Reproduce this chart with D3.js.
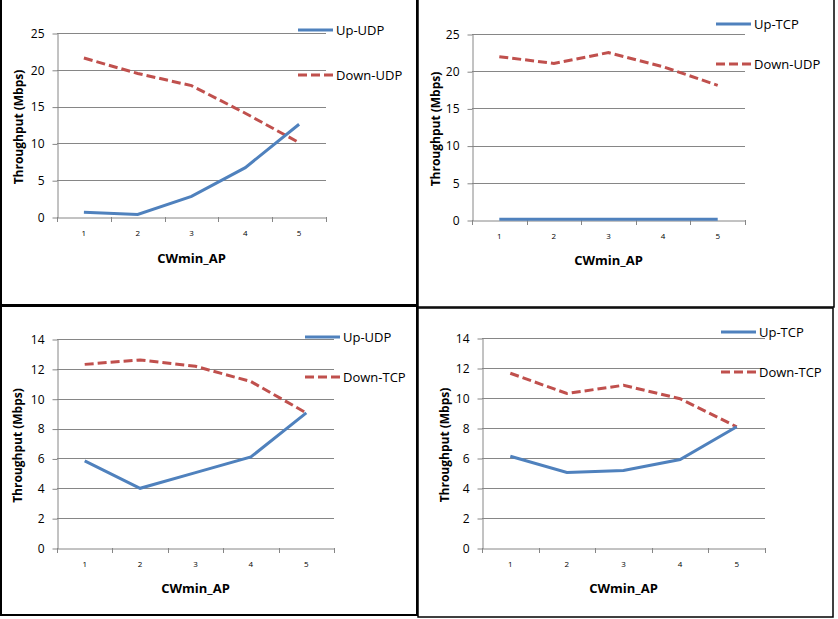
<!DOCTYPE html>
<meta charset="utf-8">
<script src="https://cdn.jsdelivr.net/npm/d3@7"></script>
<style>
  body { margin: 0; background: #fff; }
  text { font-family: "Open Sans", "Noto Sans", sans-serif; fill: #000; }
</style>
<div id="chart"></div>
<script>

// data
var categories = [1, 2, 3, 4, 5]

var upUdpA   = [0.65, 0.35, 2.8, 6.7, 12.6]
var downUdpA = [21.6, 19.5, 17.85, 14.1, 10.1]

var upTcpB   = [0.1, 0.1, 0.1, 0.1, 0.1]
var downUdpB = [21.95, 21.05, 22.5, 20.6, 18.1]

var upUdpC   = [5.83, 4.0, 5.05, 6.1, 9.05]
var downTcpC = [12.3, 12.6, 12.17, 11.15, 9.05]

var upTcpD   = [6.12, 5.04, 5.17, 5.9, 8.08]
var downTcpD = [11.65, 10.3, 10.85, 9.95, 8.08]

var ticksTop    = [0, 5, 10, 15, 20, 25]
var ticksBottom = [0, 2, 4, 6, 8, 10, 12, 14]

var blue = "#4f81bd", red = "#c0504d", grid = "#868686"

// panel layout (frame + plot area)
var panels = [
  { frame: [1, -2, 416, 307], plot: [57, 326, 33, 217], ymax: 25, ticks: ticksTop,
    up: upUdpA, down: downUdpA, upName: "Up-UDP", downName: "Down-UDP",
    legX: 298, legY: [30, 75], yTitleX: 19, xTitleY: 258, frameW: 2 },
  { frame: [418, -2, 416, 309], plot: [472, 745, 34, 220], ymax: 25, ticks: ticksTop,
    up: upTcpB, down: downUdpB, upName: "Up-TCP", downName: "Down-UDP",
    legX: 716, legY: [24, 64], yTitleX: 436, xTitleY: 260, frameW: 1.5 },
  { frame: [1, 306, 416, 309], plot: [57, 334, 339, 548], ymax: 14, ticks: ticksBottom,
    up: upUdpC, down: downTcpC, upName: "Up-UDP", downName: "Down-TCP",
    legX: 305, legY: [337, 377], yTitleX: 18, xTitleY: 588, frameW: 2 },
  { frame: [418, 308, 415, 309], plot: [482, 765, 338, 548], ymax: 14, ticks: ticksBottom,
    up: upTcpD, down: downTcpD, upName: "Up-TCP", downName: "Down-TCP",
    legX: 721, legY: [332, 372], yTitleX: 445, xTitleY: 588, frameW: 1.5 }
]

var svg = d3.select("#chart")
  .append("svg")
    .attr("width", 838)
    .attr("height", 619)

function drawPanel(p) {
  var g = svg.append("g")

  // frame
  g.append("rect")
    .attr("x", p.frame[0]).attr("y", p.frame[1])
    .attr("width", p.frame[2]).attr("height", p.frame[3])
    .attr("fill", "none")
    .attr("stroke", "#000")
    .attr("stroke-width", p.frameW)

  var x = d3.scaleBand()
    .domain(categories)
    .range([p.plot[0], p.plot[1]])
    .padding(0)

  var y = d3.scaleLinear()
    .domain([0, p.ymax])
    .range([p.plot[3], p.plot[2]])

  // gridlines
  g.append("g")
    .selectAll("line")
    .data(p.ticks.slice(1))
    .enter()
    .append("line")
      .attr("x1", p.plot[0]).attr("x2", p.plot[1])
      .attr("y1", function(d) { return Math.round(y(d)) + 0.5 })
      .attr("y2", function(d) { return Math.round(y(d)) + 0.5 })
      .attr("stroke", grid)

  // y axis
  var yAxis = g.append("g")
    .attr("transform", "translate(" + (p.plot[0] + 0.5) + ",0.5)")
    .call(d3.axisLeft(y).tickValues(p.ticks).tickSize(5).tickPadding(8).tickSizeOuter(0))
  yAxis.selectAll("path, line").attr("stroke", grid)
  yAxis.selectAll("text").style("font-size", "12px").attr("fill", "#000")

  // x axis: labels centred, tick marks on category boundaries
  var xAxis = g.append("g")
    .attr("transform", "translate(0," + (p.plot[3] + 0.5) + ")")
    .call(d3.axisBottom(x).tickSize(0).tickPadding(13).tickSizeOuter(0))
  xAxis.select(".domain").attr("stroke", grid)
  xAxis.selectAll("text").style("font-size", "8px").attr("fill", "#000")

  var bounds = categories.map(function(c) { return x(c) }).concat([p.plot[1]])
  g.append("g")
    .selectAll("line")
    .data(bounds)
    .enter()
    .append("line")
      .attr("x1", function(d) { return Math.round(d) + 0.5 })
      .attr("x2", function(d) { return Math.round(d) + 0.5 })
      .attr("y1", p.plot[3]).attr("y2", p.plot[3] + 5)
      .attr("stroke", grid)

  var line = d3.line()
    .x(function(d, i) { return x(categories[i]) + x.bandwidth() / 2 })
    .y(function(d) { return y(d) })

  g.append("path")
    .datum(p.down)
    .attr("d", line)
    .attr("fill", "none")
    .attr("stroke", red)
    .attr("stroke-width", 3)
    .attr("stroke-dasharray", "9,4")

  g.append("path")
    .datum(p.up)
    .attr("d", line)
    .attr("fill", "none")
    .attr("stroke", blue)
    .attr("stroke-width", 3)

  // legend
  var leg = [
    { name: p.upName, color: blue, dash: null, y: p.legY[0] },
    { name: p.downName, color: red, dash: "9,4", y: p.legY[1] }
  ]
  leg.forEach(function(l) {
    g.append("line")
      .attr("x1", p.legX).attr("x2", p.legX + 35)
      .attr("y1", l.y).attr("y2", l.y)
      .attr("stroke", l.color)
      .attr("stroke-width", 3)
      .attr("stroke-dasharray", l.dash)
    g.append("text")
      .attr("x", p.legX + 38)
      .attr("y", l.y)
      .attr("dy", "0.35em")
      .style("font-size", "13px")
      .text(l.name)
  })

  // axis titles
  g.append("text")
    .attr("text-anchor", "middle")
    .attr("transform", "translate(" + p.yTitleX + "," + ((p.plot[2] + p.plot[3]) / 2 + 2) + ") rotate(-90)")
    .attr("dy", "0.35em")
    .style("font-size", "12px")
    .style("font-weight", "bold")
    .text("Throughput (Mbps)")

  g.append("text")
    .attr("text-anchor", "middle")
    .attr("x", (p.plot[0] + p.plot[1]) / 2)
    .attr("y", p.xTitleY)
    .attr("dy", "0.35em")
    .style("font-size", "13px")
    .style("font-weight", "bold")
    .text("CWmin_AP")
}

panels.forEach(drawPanel)

</script>
